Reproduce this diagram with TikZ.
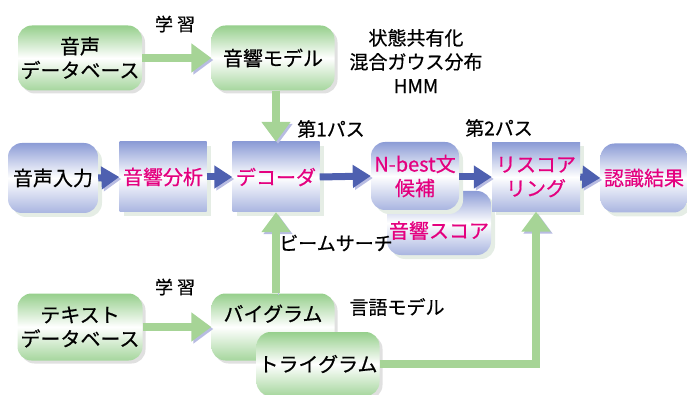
\documentclass[tikz,border=0pt]{standalone}
\usepackage{fontspec}
\setmainfont{Noto Sans CJK JP}[FakeBold=0.6]
\usetikzlibrary{arrows.meta,shadows}
\definecolor{boxgreen}{RGB}{150,207,140}
\definecolor{boxblue}{RGB}{140,156,214}
\definecolor{arrowgreen}{RGB}{166,212,150}
\definecolor{arrowblue}{RGB}{78,96,176}
\definecolor{arrowshade}{RGB}{184,188,226}
\definecolor{textmag}{RGB}{228,0,127}
\begin{document}
\begin{tikzpicture}[x=1pt,y=-1pt,
    box/.style={minimum width=88pt,minimum height=69pt,inner sep=2pt,align=center,
      font=\fontsize{20}{24}\selectfont},
    greenbox/.style={box,rounded corners=14pt,top color=boxgreen,bottom color=boxgreen!85,
      middle color=white,drop shadow={shadow xshift=3pt,shadow yshift=-3pt,fill=black!12,opacity=1}},
    bluebox/.style={box,top color=boxblue,bottom color=boxblue!75,middle color=white,
      drop shadow={shadow xshift=4pt,shadow yshift=-4pt,fill=green!30!black!10,opacity=1}},
    roundblue/.style={bluebox,rounded corners=14pt},
    lbl/.style={font=\fontsize{19}{24}\selectfont,align=center,inner sep=0pt},
    garrow/.style={draw=arrowgreen,line width=8pt,-{Triangle[length=20pt,width=28pt]},
      preaction={draw=arrowshade,-{Triangle[length=20pt,width=28pt]},
        transform canvas={shift={(2pt,-2pt)}}}},
    barrow/.style={draw=arrowblue,line width=7pt,-{Triangle[length=18pt,width=22pt]},
      preaction={draw=arrowshade,-{Triangle[length=18pt,width=22pt]},
        transform canvas={shift={(2pt,-2pt)}}}}]
  \useasboundingbox (0,0) rectangle (687,395);
  % acoustic model
  \node[greenbox,minimum width=124pt,minimum height=65pt] (sdb) at (80,58) {音声\\データベース};
  \node[greenbox,minimum width=123pt,minimum height=65pt] (amod) at (273,58) {音響モデル};
  \node[lbl,font=\fontsize{18}{20}\selectfont] (learn1) at (175,24) {学 習};
  \node[lbl] (hmm) at (416,61) {状態共有化\\混合ガウス分布\\HMM};
  % main row
  \node[roundblue,minimum width=90pt,minimum height=70pt] (input) at (53,178) {音声入力};
  \node[bluebox,text=textmag,minimum width=87pt,minimum height=70pt] (anal) at (163,177) {音響分析};
  \node[bluebox,text=textmag,minimum width=87pt,minimum height=70pt] (dec) at (276,177) {デコーダ};
  \node[roundblue,text=textmag,minimum width=98pt,minimum height=64pt,text height=32pt] (ascore) at (439,223) {音響スコア};
  \node[roundblue,text=textmag,minimum width=88pt,minimum height=68pt] (nbest) at (415,176) {N-best文\\候補};
  \node[bluebox,text=textmag,minimum width=88pt,minimum height=69pt] (resc) at (536,177) {リスコア\\リング};
  \node[roundblue,text=textmag,minimum width=87pt,minimum height=69pt] (result) at (644,178) {認識結果};
  \node[lbl] (pass1) at (331,129) {第1パス};
  \node[lbl] (pass2) at (499,128) {第2パス};
  \node[lbl] (beam) at (336,243) {ビームサーチ};
  % language model
  \node[greenbox,minimum width=125pt,minimum height=67pt] (tdb) at (80,327) {テキスト\\データベース};
  \node[greenbox,minimum width=123pt,minimum height=67pt,text depth=28pt] (bi) at (273,327) {バイグラム};
  \node[greenbox,minimum width=123pt,minimum height=64pt] (tri) at (318,364) {トライグラム};
  \node[lbl,font=\fontsize{18}{20}\selectfont] (learn2) at (175,287) {学 習};
  \node[lbl] (lmod) at (397,307) {言語モデル};
  % arrows
  \draw[garrow] (sdb.east) -- (amod.west);
  \draw[garrow] (dec.north |- amod.south) -- (dec.north);
  \draw[garrow] (tdb.east) -- (bi.west);
  \draw[garrow] (dec.south |- bi.north) -- (dec.south);
  \draw[garrow] (tri.east) -| (resc.south);
  \draw[barrow] (input.east) -- (anal.west);
  \draw[barrow] (anal.east) -- (dec.west);
  \draw[barrow] (dec.east) -- (nbest.west);
  \draw[barrow] (nbest.east |- resc.west) -- (resc.west);
  \draw[barrow] (resc.east) -- (result.west);
\end{tikzpicture}
\end{document}
